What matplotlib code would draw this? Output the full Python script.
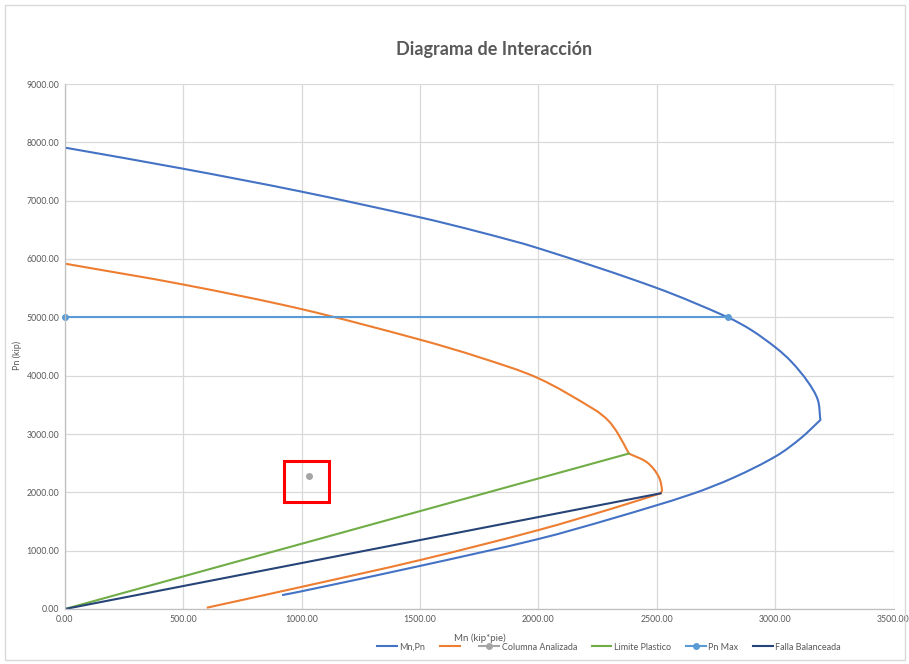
import math
import matplotlib.pyplot as plt
from matplotlib.patches import Rectangle, PathPatch
from matplotlib.path import Path
from matplotlib.lines import Line2D

# Diagrama de interaccion (Mn vs Pn)
mn_nominal = [0, 500, 1000, 1500, 1750, 2000, 2500, 2800, 2900, 3005, 3070, 3137,
              3180, 3191, 3109, 3006, 2827, 2644, 2319, 2000, 1500, 1000, 917]
pn_nominal = [7909, 7547, 7154, 6714, 6464, 6184, 5503, 5000, 4780, 4473, 4233, 3901,
              3588, 3240, 2930, 2626, 2257, 1965, 1560, 1200, 739, 304, 238]

mn_reducido = [0, 500, 1000, 1500, 1755, 2000, 2236, 2295, 2335, 2382, 2460, 2508,
               2522, 2516, 2318, 2000, 1500, 1000, 599]
pn_reducido = [5920, 5562, 5140, 4617, 4309, 3955, 3420, 3230, 3012, 2665, 2510, 2269,
               2040, 1983, 1730, 1353, 839, 380, 22]

mn_columna = [1031]
pn_columna = [2274]

mn_plastico = [0, 2382]
pn_plastico = [0, 2665]

mn_pnmax = [0, 2800]
pn_pnmax = [5000, 5000]

mn_balanceada = [0, 2516]
pn_balanceada = [0, 1983]

x_ticks = [0, 500, 1000, 1500, 2000, 2500, 3000, 3500]
y_ticks = [0, 1000, 2000, 3000, 4000, 5000, 6000, 7000, 8000, 9000]

# pixeles por unidad en cada eje, para suavizar en espacio de pantalla
SX = 828.5 / 3500
SY = 525.0 / 9000


def _unit(dx, dy):
    d = math.hypot(dx, dy)
    return (dx / d, dy / d) if d else (0.0, 0.0)


def curva_suave(xs, ys, quiebres=()):
    """Linea suavizada (tipo Excel) que pasa por los puntos; quiebres = indices con esquina."""
    pts = [(x * SX, y * SY) for x, y in zip(xs, ys)]
    n = len(pts)
    t_in, t_out = [], []
    for i in range(n):
        if i == 0:
            t = _unit(pts[1][0] - pts[0][0], pts[1][1] - pts[0][1])
            t_in.append(t)
            t_out.append(t)
        elif i == n - 1:
            t = _unit(pts[i][0] - pts[i - 1][0], pts[i][1] - pts[i - 1][1])
            t_in.append(t)
            t_out.append(t)
        elif i in quiebres:
            t_in.append(_unit(pts[i][0] - pts[i - 1][0], pts[i][1] - pts[i - 1][1]))
            t_out.append(_unit(pts[i + 1][0] - pts[i][0], pts[i + 1][1] - pts[i][1]))
        else:
            t = _unit(pts[i + 1][0] - pts[i - 1][0], pts[i + 1][1] - pts[i - 1][1])
            t_in.append(t)
            t_out.append(t)
    verts = [pts[0]]
    codes = [Path.MOVETO]
    for i in range(n - 1):
        p1, p2 = pts[i], pts[i + 1]
        L = math.hypot(p2[0] - p1[0], p2[1] - p1[1]) / 3
        c1 = (p1[0] + t_out[i][0] * L, p1[1] + t_out[i][1] * L)
        c2 = (p2[0] - t_in[i + 1][0] * L, p2[1] - t_in[i + 1][1] * L)
        verts += [c1, c2, p2]
        codes += [Path.CURVE4] * 3
    verts = [(vx / SX, vy / SY) for vx, vy in verts]
    return Path(verts, codes)


plt.rcParams['font.family'] = ['Lato', 'DejaVu Sans']
gris = '#595959'
lw = 1.5

fig = plt.figure(figsize=(9.09, 6.64), dpi=100)
ax = fig.add_axes([65 / 909, 1 - 609 / 664, (893.5 - 65) / 909, (609 - 84) / 664])

ax.add_patch(PathPatch(curva_suave(mn_nominal, pn_nominal, quiebres=(13,)),
                       fill=False, edgecolor='#4472c4', lw=lw))
ax.add_patch(PathPatch(curva_suave(mn_reducido, pn_reducido, quiebres=(9, 13)),
                       fill=False, edgecolor='#ed7d31', lw=lw))
ax.plot(mn_columna, pn_columna, color='#a5a5a5', lw=lw, marker='o', ms=4)
ax.plot(mn_plastico, pn_plastico, color='#70ad47', lw=lw)
ax.plot(mn_pnmax, pn_pnmax, color='#5b9bd5', lw=lw, marker='o', ms=4, clip_on=False)
ax.plot(mn_balanceada, pn_balanceada, color='#264478', lw=lw)

# recuadro rojo que resalta la columna analizada
ax.add_patch(Rectangle((mn_columna[0] - 105, pn_columna[0] - 434), 190, 697,
                       fill=False, edgecolor='#ff0000', lw=2.2, zorder=5))

ax.set_xlim(0, 3500)
ax.set_ylim(0, 9000)
ax.set_xticks(x_ticks)
ax.set_yticks(y_ticks)
ax.set_xticklabels([f'{v:.2f}' for v in x_ticks])
ax.set_yticklabels([f'{v:.2f}' for v in y_ticks])
ax.tick_params(length=0, labelsize=6.3, colors=gris, pad=4)
ax.grid(color='#d9d9d9', lw=0.9)
ax.set_axisbelow(True)
for s in ['top', 'right']:
    ax.spines[s].set_visible(False)
for s in ['left', 'bottom']:
    ax.spines[s].set_color('#bfbfbf')
    ax.spines[s].set_linewidth(0.9)

fig.text(494 / 909, 1 - 50 / 664, 'Diagrama de Interacción', ha='center', va='center',
         fontsize=13, fontweight='bold', color=gris)
fig.text(17 / 909, 1 - 355 / 664, 'Pn (kip)', rotation=90, ha='center', va='center',
         fontsize=6.5, color=gris)
fig.text(480 / 909, 1 - 638 / 664, 'Mn (kip*pie)', ha='center', va='center',
         fontsize=7, color=gris)

handles = [
    Line2D([], [], color='#4472c4', lw=lw),
    Line2D([], [], color='#ed7d31', lw=lw),
    Line2D([], [], color='#a5a5a5', lw=lw, marker='o', ms=4),
    Line2D([], [], color='#70ad47', lw=lw),
    Line2D([], [], color='#5b9bd5', lw=lw, marker='o', ms=4),
    Line2D([], [], color='#264478', lw=lw),
]
labels = ['Mn,Pn', ' ', 'Columna Analizada', 'Limite Plastico', 'Pn Max', 'Falla Balanceada']
fig.legend(handles, labels, loc='center', bbox_to_anchor=(609 / 909, 1 - 647 / 664),
           ncol=6, frameon=False, fontsize=6.5, labelcolor=gris, handlelength=2.2,
           handletextpad=0.3, columnspacing=1.6)

# borde del grafico
fig.add_artist(Rectangle((5 / 909, 4 / 664), 900 / 909, 655 / 664, fill=False,
                         edgecolor='#d9d9d9', lw=1, transform=fig.transFigure))

fig.savefig('out.png', dpi=100)
